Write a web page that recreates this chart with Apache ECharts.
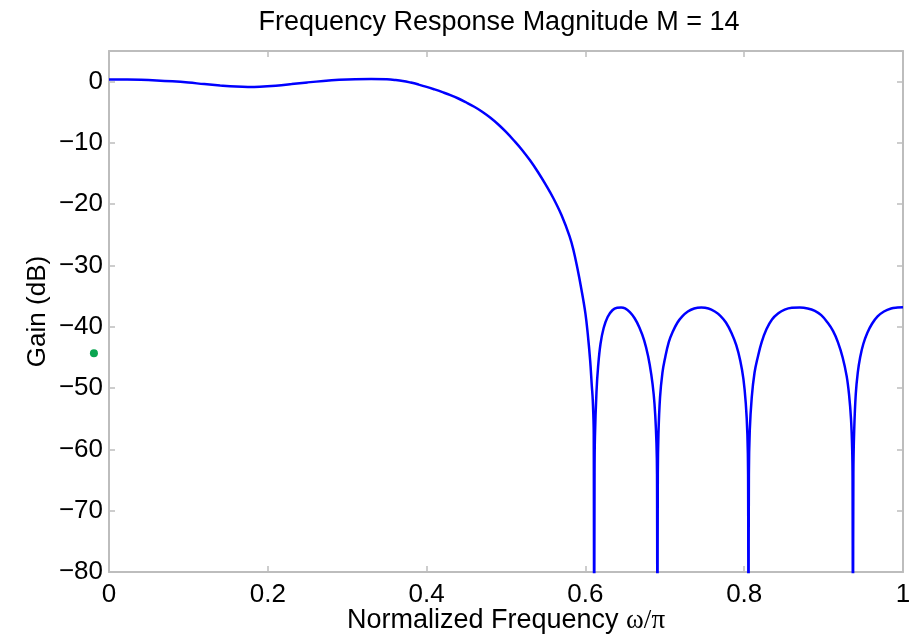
<!DOCTYPE html>
<html lang="en">
<head>
    <meta charset="UTF-8">
    <script src="https://cdn.jsdelivr.net/npm/echarts@6/dist/echarts.min.js"></script>
    <title>Frequency Response Magnitude</title>
</head>
<body>
<style>
    html, body {
        margin: 0;
        background: #fff;
    }
    #main {
        width: 916px;
        height: 638px;
    }
</style>
<div id='main'></div>
<script>
    // values (normalized freq, gain in dB); nulls go below the axis
    var freqs = [
        0, 0.02, 0.04, 0.06, 0.08, 0.10, 0.12, 0.14, 0.16, 0.175,
        0.19, 0.21, 0.23, 0.25, 0.27, 0.29, 0.31, 0.33, 0.35, 0.36,
        0.37, 0.38, 0.39, 0.40, 0.41, 0.42, 0.43, 0.44, 0.45, 0.46,
        0.47, 0.48, 0.49, 0.50, 0.51, 0.52, 0.53, 0.54, 0.55, 0.56,
        0.57, 0.58, 0.585, 0.59, 0.595, 0.600, 0.603, 0.606, 0.608, 0.6093,
        0.6105, 0.611,
        0.6115, 0.612, 0.614, 0.616, 0.619, 0.623, 0.628, 0.634, 0.640, 0.645,
        0.650, 0.656, 0.662, 0.668, 0.674, 0.679, 0.683, 0.686, 0.688, 0.6895,
        0.6902, 0.6907,
        0.6912, 0.692, 0.694, 0.697, 0.700, 0.705, 0.710, 0.716, 0.722, 0.729,
        0.737, 0.746, 0.755, 0.763, 0.770, 0.777, 0.784, 0.790, 0.795, 0.799,
        0.802, 0.804, 0.8049, 0.8054,
        0.8059, 0.807, 0.8095, 0.813, 0.817, 0.822, 0.828, 0.835, 0.843, 0.851,
        0.860, 0.870, 0.880, 0.889, 0.897, 0.905, 0.912, 0.918, 0.924, 0.929,
        0.932, 0.9345, 0.936, 0.9365, 0.937,
        0.9375, 0.9385, 0.9405, 0.943, 0.946, 0.950, 0.955, 0.961, 0.968, 0.976,
        0.985, 0.993, 1.0
    ];
    var gains = [
        0.35, 0.34, 0.3, 0.2, 0.05, -0.15, -0.4, -0.62, -0.8, -0.86,
        -0.82, -0.65, -0.4, -0.12, 0.12, 0.3, 0.41, 0.44, 0.38, 0.28,
        0.12, -0.15, -0.48, -0.85, -1.27, -1.72, -2.2, -2.75, -3.4, -4.1,
        -4.9, -5.85, -6.95, -8.2, -9.6, -11.1, -12.8, -14.7, -16.8, -19.1,
        -21.8, -25.2, -27.5, -30.5, -33.9, -37.8, -41.2, -45.5, -49.5, -52,
        -57.5, -100,
        -65, -58, -50.5, -46.5, -42.8, -40.2, -38.4, -37.3, -36.9, -36.85,
        -37.0, -37.6, -38.6, -40.1, -42.2, -44.8, -47.8, -51, -54.5, -59,
        -64, -100,
        -64, -57.5, -51.5, -47.5, -45.3, -42.5, -40.8, -39.3, -38.3, -37.5,
        -37.0, -36.85, -37.0, -37.5, -38.2, -39.3, -41.0, -43.0, -45.5, -48.5,
        -52.5, -57.5, -64, -100,
        -64, -57, -51.5, -47.5, -45, -42.5, -40.4, -38.8, -37.8, -37.2,
        -36.9, -36.85, -37.0, -37.4, -38.1, -39.3, -40.7, -42.5, -45, -48,
        -51, -55, -60, -65, -100,
        -64, -57, -51, -47.5, -45, -42.8, -41, -39.5, -38.3, -37.5,
        -37.0, -36.85, -36.8
    ];
    // stray green marker left of the axis
    var dotFreq = [-0.019];
    var dotGain = [-44.3];

    var titleText = 'Frequency Response Magnitude M = 14';
    var xName = 'Normalized Frequency {s|ω/π}';
    var yName = 'Gain (dB)';

    var lineData = [];
    for (var i = 0; i < freqs.length; i++) {
        lineData.push([freqs[i], gains[i]]);
    }
    var dotData = [];
    for (var j = 0; j < dotFreq.length; j++) {
        dotData.push([dotFreq[j], dotGain[j]]);
    }

    var font = 'Liberation Sans, Arial, Helvetica, sans-serif';
    var frame = '#bdbdbd';
    var minus = function (v) {
        return String(v).replace('-', '\u2212');
    };
    var frameLine = {show: true, onZero: false, lineStyle: {color: frame, width: 2}};
    var frameTick = {show: true, inside: true, length: 6, lineStyle: {color: frame, width: 1.5}};

    var myChart = echarts.init(document.getElementById('main'), null, {renderer: 'canvas'});
    var option = {
        animation: false,
        backgroundColor: '#fff',
        textStyle: {fontFamily: font},
        title: {
            text: titleText,
            left: 494,
            top: 4,
            textAlign: 'center',
            textStyle: {fontFamily: font, fontSize: 27, fontWeight: 'normal', color: '#000'}
        },
        grid: {left: 109, right: 13, top: 51, bottom: 66, containLabel: false, outerBoundsMode: 'none'},
        xAxis: [{
            type: 'value',
            min: 0,
            max: 1,
            interval: 0.2,
            name: xName,
            nameLocation: 'middle',
            nameGap: 35,
            nameMoveOverlap: false,
            nameTextStyle: {
                fontFamily: font, fontSize: 27, color: '#000',
                rich: {s: {fontFamily: 'Liberation Serif, DejaVu Serif, serif', fontSize: 27, color: '#000'}}
            },
            axisLine: frameLine,
            axisTick: frameTick,
            axisLabel: {fontFamily: font, fontSize: 26, color: '#000', margin: 10},
            splitLine: {show: false}
        }, {
            type: 'value',
            position: 'top',
            min: 0,
            max: 1,
            interval: 0.2,
            axisLine: frameLine,
            axisTick: frameTick,
            axisLabel: {show: false},
            splitLine: {show: false}
        }],
        yAxis: [{
            type: 'value',
            min: -80,
            max: 5,
            interval: 10,
            name: yName,
            nameLocation: 'middle',
            nameGap: 58,
            nameMoveOverlap: false,
            nameTextStyle: {fontFamily: font, fontSize: 26, color: '#000'},
            axisLine: frameLine,
            axisTick: frameTick,
            axisLabel: {fontFamily: font, fontSize: 26, color: '#000', margin: 6, showMaxLabel: false, formatter: minus},
            splitLine: {show: false}
        }, {
            type: 'value',
            position: 'right',
            min: -80,
            max: 5,
            interval: 10,
            axisLine: frameLine,
            axisTick: frameTick,
            axisLabel: {show: false},
            splitLine: {show: false}
        }],
        series: [{
            type: 'line',
            xAxisIndex: 0,
            yAxisIndex: 0,
            data: lineData,
            showSymbol: false,
            smooth: 0.4,
            lineStyle: {color: '#0000ff', width: 2.5},
            clip: true
        }, {
            type: 'scatter',
            xAxisIndex: 0,
            yAxisIndex: 0,
            data: dotData,
            symbolSize: 8,
            itemStyle: {color: '#0aa550', opacity: 1},
            clip: false
        }]
    };

    if (option && typeof option === "object") {
        myChart.setOption(option, true);
    }
</script>
</body>
</html>
